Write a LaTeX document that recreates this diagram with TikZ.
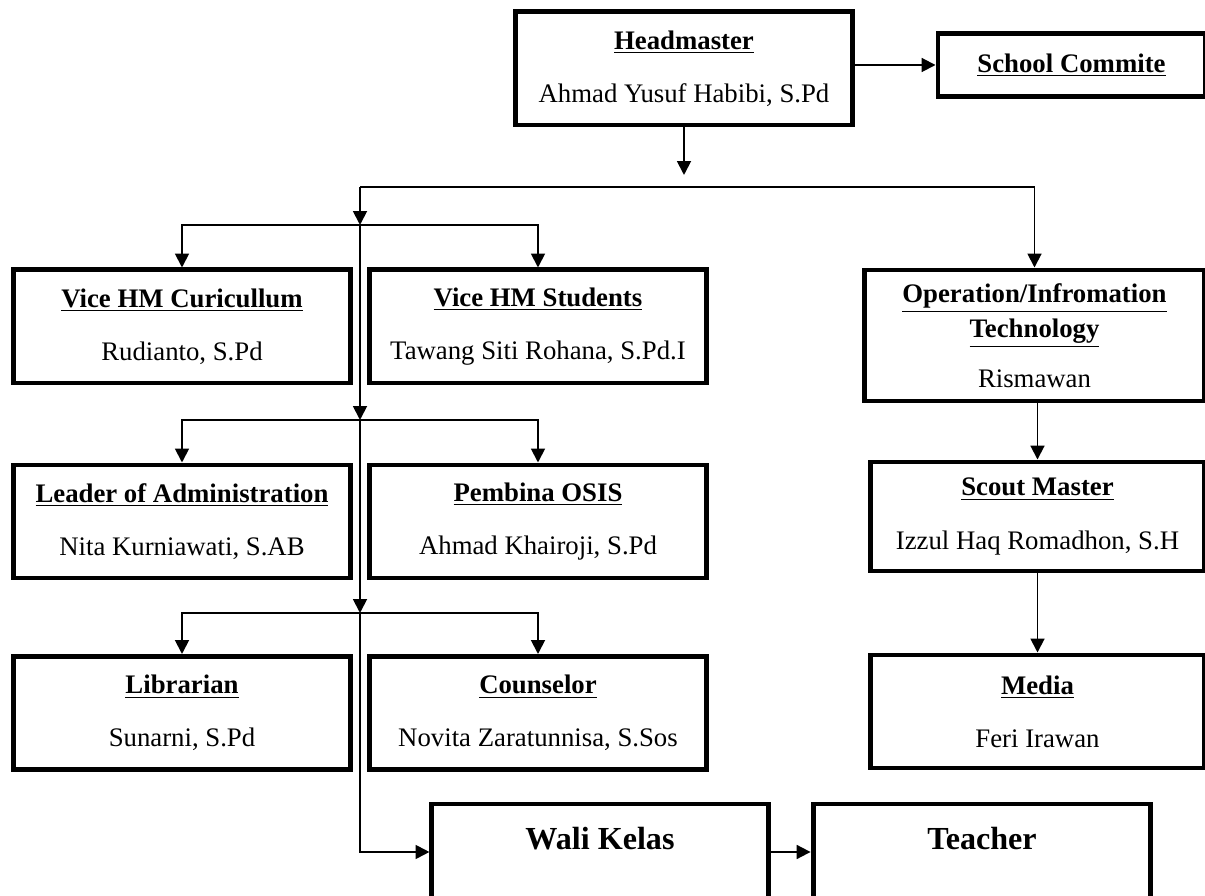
\documentclass[tikz,border=0pt]{standalone}
\usepackage{fontspec}
\setmainfont{Liberation Serif}
\usepackage{tikz}
\usetikzlibrary{positioning, arrows.meta, calc}

\begin{document}
\begin{tikzpicture}[
    x=0.467pt, y=-0.467pt,
    box/.style={draw, line width=2.3pt, minimum width=157pt, minimum height=52.8pt, inner sep=0pt, align=center, fill=white, font=\fontsize{12.5}{24.8}\selectfont},
    bigbox/.style={box, minimum height=44.8pt, font=\fontsize{15}{18}\selectfont\bfseries, text height=10.4pt, text depth=12.4pt},
    conn/.style={->, line width=0.9pt, >={Triangle[length=6.5pt, width=6.5pt]}}
]
    \useasboundingbox (0,0) rectangle (1205,896);

    % Nodes
    \node[box, minimum width=157.8pt] (head) at (684,68.5) {\textbf{\underline{Headmaster}} \\ Ahmad Yusuf Habibi, S.Pd};
    \node[box, minimum width=124.7pt, minimum height=29pt] (comm) at (1071.5,65) {\textbf{\underline{School Commite}}};

    \node[box] (vcur) at (182,326.5) {\textbf{\underline{Vice HM Curicullum}} \\ Rudianto, S.Pd};
    \node[box] (vstu) at (538,326.5) {\textbf{\underline{Vice HM Students}} \\ Tawang Siti Rohana, S.Pd.I};
    \node[box, minimum width=159.2pt, minimum height=61.2pt, font=\fontsize{12.5}{16.3}\selectfont] (ops) at (1034.5,335.5) {\textbf{\underline{Operation/Infromation}} \\ \textbf{\underline{Technology}} \\[7.1pt] Rismawan};

    \node[box] (lead) at (182,521.5) {\textbf{\underline{Leader of Administration}} \\ Nita Kurniawati, S.AB};
    \node[box] (pemb) at (538,521.5) {\textbf{\underline{Pembina OSIS}} \\ Ahmad Khairoji, S.Pd};
    \node[box, minimum width=156.4pt, minimum height=50.9pt] (scout) at (1037.5,516.5) {\textbf{\underline{Scout Master}} \\ Izzul Haq Romadhon, S.H};

    \node[box] (lib) at (182,713) {\textbf{\underline{Librarian}} \\ Sunarni, S.Pd};
    \node[box] (coun) at (538,713) {\textbf{\underline{Counselor}} \\ Novita Zaratunnisa, S.Sos};
    \node[box, minimum width=156.4pt] (media) at (1037.5,711.5) {\textbf{\underline{Media}} \\ Feri Irawan};

    \node[bigbox] (wali) at (600,852) {Wali Kelas};
    \node[bigbox, minimum width=157.8pt] (teach) at (982,852) {Teacher};

    % Branch points
    \coordinate (hend) at (684,175);
    \coordinate (split1) at (360,187);
    \coordinate (split2) at (360,225);
    \coordinate (split3) at (360,420);
    \coordinate (split4) at (360,613);

    % Connections
    \draw[conn] (head.east |- comm.west) -- (comm.west);
    \draw[conn] (head.south) -- (hend);
    \draw[conn] (split1) -| (ops.north);
    \draw[conn] (split1) -- (split2);
    \draw[conn, <->] (vcur.north) |- (split2) -| (vstu.north);
    \draw[conn] (split2) -- (split3);
    \draw[conn, <->] (lead.north) |- (split3) -| (pemb.north);
    \draw[conn] (split3) -- (split4);
    \draw[conn, <->] (lib.north) |- (split4) -| (coun.north);
    \draw[conn] (split4) |- (wali.west);
    \draw[conn] (wali) -- (teach);
    \draw[conn] (scout.north |- ops.south) -- (scout.north);
    \draw[conn] (scout) -- (media);
\end{tikzpicture}
\end{document}
